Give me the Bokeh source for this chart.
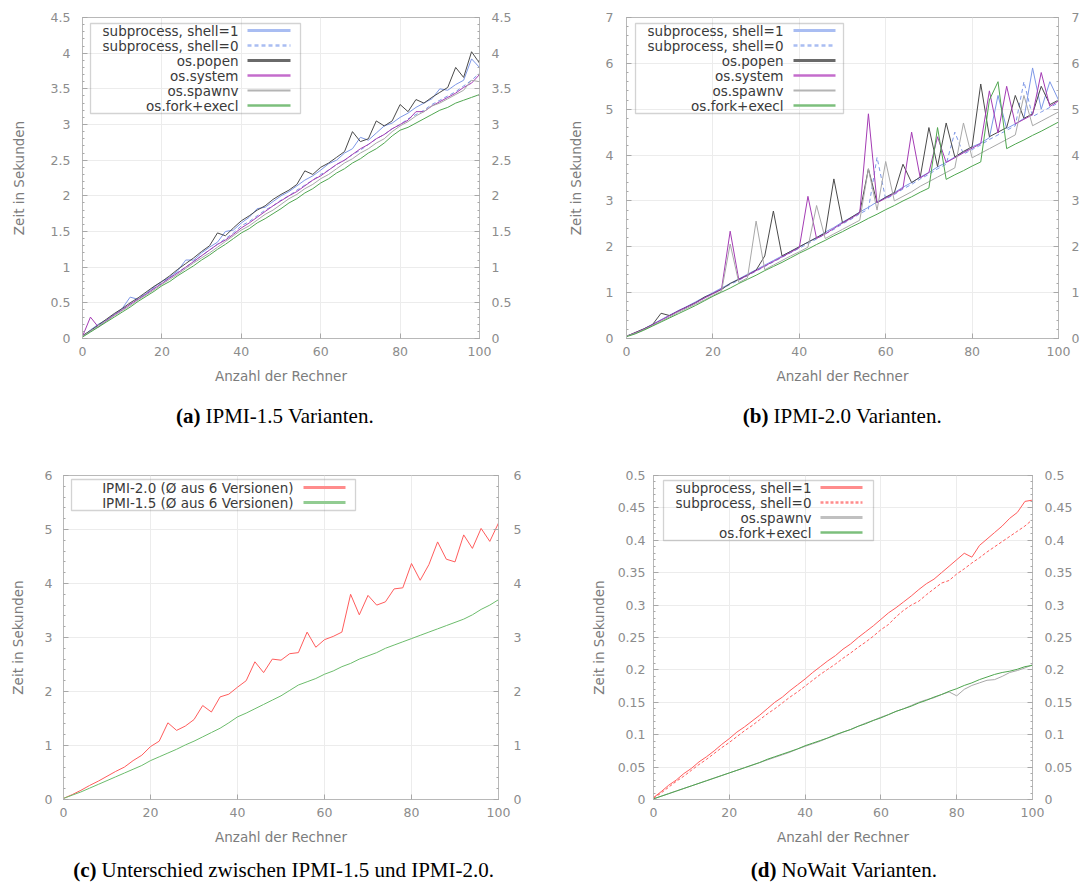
from bokeh.plotting import figure
from bokeh.layouts import column, row
from bokeh.models import (Range1d, LinearAxis, FixedTicker, NumeralTickFormatter,
                          Label, BoxAnnotation, Arrow)
from bokeh.embed import file_html
from bokeh.resources import INLINE

# ---------------- data ----------------
rechner = [0, 2, 4, 6, 8, 10, 12, 14, 16, 18,
           20, 22, 24, 26, 28, 30, 32, 34, 36, 38,
           40, 42, 44, 46, 48, 50, 52, 54, 56, 58,
           60, 62, 64, 66, 68, 70, 72, 74, 76, 78,
           80, 82, 84, 86, 88, 90, 92, 94, 96, 98,
           100]
x_ticks = [0, 20, 40, 60, 80, 100]

# (a) IPMI-1.5
a_shell1 = [0.03, 0.12, 0.20, 0.26, 0.34, 0.42, 0.58, 0.55, 0.63, 0.72,
            0.80, 0.86, 0.95, 1.10, 1.10, 1.20, 1.28, 1.35, 1.50, 1.52,
            1.62, 1.70, 1.82, 1.84, 1.92, 2.00, 2.06, 2.14, 2.22, 2.28,
            2.36, 2.45, 2.50, 2.60, 2.66, 2.82, 2.78, 2.88, 2.98, 3.02,
            3.10, 3.16, 3.24, 3.30, 3.36, 3.50, 3.48, 3.56, 3.62, 3.92,
            3.80]
a_shell0 = [0.03, 0.10, 0.18, 0.25, 0.33, 0.41, 0.48, 0.56, 0.63, 0.70,
            0.78, 0.85, 0.93, 1.00, 1.08, 1.16, 1.24, 1.32, 1.40, 1.48,
            1.58, 1.64, 1.72, 1.80, 1.86, 1.94, 2.00, 2.08, 2.15, 2.22,
            2.30, 2.36, 2.44, 2.50, 2.58, 2.64, 2.72, 2.80, 2.86, 2.94,
            3.00, 3.08, 3.14, 3.20, 3.28, 3.34, 3.40, 3.46, 3.54, 3.62,
            3.72]
a_popen = [0.04, 0.11, 0.19, 0.27, 0.35, 0.42, 0.50, 0.57, 0.65, 0.73,
           0.80, 0.88, 0.97, 1.05, 1.13, 1.22, 1.30, 1.48, 1.44, 1.55,
           1.65, 1.72, 1.80, 1.86, 1.95, 2.02, 2.08, 2.16, 2.35, 2.30,
           2.40, 2.46, 2.54, 2.62, 2.90, 2.76, 2.80, 3.05, 2.98, 3.05,
           3.28, 3.18, 3.35, 3.30, 3.38, 3.45, 3.52, 3.80, 3.66, 4.02,
           3.86]
a_system = [0.03, 0.30, 0.16, 0.25, 0.33, 0.40, 0.48, 0.55, 0.62, 0.70,
            0.77, 0.85, 0.92, 1.00, 1.08, 1.16, 1.24, 1.32, 1.38, 1.46,
            1.55, 1.62, 1.70, 1.78, 1.86, 1.93, 2.00, 2.06, 2.14, 2.22,
            2.28, 2.36, 2.44, 2.50, 2.58, 2.66, 2.72, 2.80, 2.86, 2.94,
            3.00, 3.06, 3.18, 3.18, 3.26, 3.32, 3.38, 3.44, 3.52, 3.58,
            3.70]
a_spawnv = [0.03, 0.10, 0.17, 0.24, 0.32, 0.39, 0.46, 0.54, 0.61, 0.68,
            0.76, 0.83, 0.90, 0.98, 1.06, 1.13, 1.20, 1.28, 1.36, 1.44,
            1.52, 1.58, 1.66, 1.74, 1.80, 1.88, 1.96, 2.02, 2.10, 2.16,
            2.24, 2.30, 2.38, 2.46, 2.52, 2.60, 2.66, 2.74, 2.80, 2.90,
            2.98, 3.04, 3.12, 3.18, 3.26, 3.30, 3.36, 3.42, 3.48, 3.62,
            3.60]
a_fork = [0.02, 0.09, 0.16, 0.23, 0.30, 0.37, 0.44, 0.52, 0.59, 0.66,
          0.74, 0.80, 0.88, 0.95, 1.02, 1.10, 1.17, 1.25, 1.32, 1.40,
          1.48, 1.54, 1.62, 1.68, 1.75, 1.82, 1.90, 1.96, 2.04, 2.10,
          2.18, 2.24, 2.32, 2.38, 2.46, 2.52, 2.60, 2.66, 2.74, 2.84,
          2.92, 2.96, 3.02, 3.08, 3.14, 3.20, 3.24, 3.30, 3.34, 3.38,
          3.42]
a_y_ticks = [0, 0.5, 1, 1.5, 2, 2.5, 3, 3.5, 4, 4.5]

# (b) IPMI-2.0
b_shell1 = [0.05, 0.12, 0.21, 0.31, 0.41, 0.51, 0.61, 0.70, 0.80, 0.90,
            1.00, 1.10, 1.20, 1.30, 1.40, 1.50, 1.60, 1.70, 1.80, 1.90,
            2.00, 2.10, 2.20, 2.32, 2.42, 2.54, 2.64, 2.76, 2.86, 2.98,
            3.08, 3.18, 3.30, 3.40, 3.52, 3.62, 3.74, 3.84, 3.96, 4.06,
            4.18, 4.26, 4.38, 5.30, 4.58, 4.68, 4.80, 5.90, 5.00, 5.60,
            5.20]
b_shell0 = [0.05, 0.12, 0.20, 0.30, 0.40, 0.50, 0.59, 0.68, 0.78, 0.88,
            0.98, 1.08, 1.18, 1.27, 1.37, 1.47, 1.57, 1.67, 1.77, 1.87,
            1.97, 2.07, 2.17, 2.28, 2.38, 2.50, 2.60, 2.72, 2.82, 3.95,
            3.04, 3.14, 3.26, 3.36, 3.48, 3.58, 3.70, 3.80, 4.50, 4.02,
            4.12, 4.22, 4.34, 4.44, 4.54, 4.64, 5.60, 4.84, 4.94, 5.04,
            5.14]
b_popen = [0.05, 0.13, 0.21, 0.30, 0.55, 0.50, 0.60, 0.69, 0.78, 0.90,
           0.98, 1.07, 1.20, 1.29, 1.38, 1.49, 1.80, 2.78, 1.80, 1.90,
           2.00, 2.10, 2.20, 2.30, 3.48, 2.52, 2.64, 2.75, 3.70, 2.96,
           3.08, 3.18, 3.80, 3.40, 3.52, 4.60, 3.75, 4.70, 3.96, 4.08,
           4.18, 5.55, 4.40, 4.50, 4.60, 5.30, 4.80, 4.90, 5.50, 5.10,
           5.20]
b_system = [0.05, 0.12, 0.20, 0.30, 0.40, 0.50, 0.60, 0.69, 0.78, 0.88,
            0.98, 1.08, 2.34, 1.28, 1.38, 1.48, 1.58, 1.68, 1.78, 1.88,
            1.98, 3.10, 2.18, 2.28, 2.40, 2.52, 2.62, 2.74, 4.90, 2.96,
            3.06, 3.16, 3.28, 4.50, 3.50, 3.62, 4.40, 3.84, 3.94, 4.05,
            4.15, 4.25, 5.40, 4.48, 5.50, 4.68, 4.78, 4.88, 5.80, 5.06,
            5.18]
b_spawnv = [0.05, 0.11, 0.19, 0.28, 0.38, 0.47, 0.57, 0.66, 0.75, 0.84,
            0.94, 1.03, 2.06, 1.22, 1.32, 2.56, 1.50, 1.60, 1.70, 1.80,
            1.89, 1.99, 2.90, 2.18, 2.28, 2.38, 2.48, 2.58, 3.70, 2.80,
            3.86, 3.00, 3.10, 3.20, 3.32, 3.42, 3.52, 3.62, 3.72, 4.70,
            3.94, 4.04, 4.14, 4.24, 4.34, 4.44, 5.30, 4.64, 4.74, 4.84,
            4.94]
b_fork = [0.04, 0.10, 0.18, 0.27, 0.36, 0.45, 0.54, 0.63, 0.72, 0.82,
          0.92, 1.01, 1.10, 1.20, 1.29, 1.38, 1.48, 1.57, 1.66, 1.76,
          1.86, 1.95, 2.05, 2.14, 2.24, 2.33, 2.43, 2.52, 2.62, 2.71,
          2.81, 2.90, 3.00, 3.09, 3.19, 3.28, 4.60, 3.47, 3.57, 3.66,
          3.76, 3.85, 5.20, 5.60, 4.14, 4.24, 4.33, 4.43, 4.52, 4.62,
          4.72]
b_y_ticks = [0, 1, 2, 3, 4, 5, 6, 7]

# (c) IPMI-1.5 vs IPMI-2.0 (average of 6 versions)
c_ipmi20 = [0.02, 0.09, 0.17, 0.26, 0.34, 0.43, 0.52, 0.60, 0.72, 0.82,
            0.98, 1.08, 1.42, 1.28, 1.36, 1.48, 1.74, 1.62, 1.90, 1.95,
            2.08, 2.20, 2.55, 2.35, 2.60, 2.58, 2.70, 2.72, 3.10, 2.82,
            2.96, 3.02, 3.10, 3.80, 3.42, 3.78, 3.60, 3.66, 3.90, 3.92,
            4.37, 4.06, 4.35, 4.77, 4.45, 4.40, 4.90, 4.65, 5.02, 4.78,
            5.12]
c_ipmi15 = [0.02, 0.08, 0.14, 0.21, 0.28, 0.35, 0.42, 0.49, 0.56, 0.63,
            0.72, 0.79, 0.86, 0.93, 1.01, 1.08, 1.16, 1.24, 1.32, 1.42,
            1.53, 1.60, 1.68, 1.76, 1.84, 1.92, 2.02, 2.12, 2.18, 2.24,
            2.32, 2.38, 2.46, 2.52, 2.60, 2.66, 2.72, 2.80, 2.86, 2.92,
            2.98, 3.04, 3.10, 3.16, 3.22, 3.28, 3.34, 3.42, 3.52, 3.60,
            3.70]
c_y_ticks = [0, 1, 2, 3, 4, 5, 6]

# (d) NoWait
d_shell1 = [0.003, 0.012, 0.022, 0.030, 0.040, 0.048, 0.058, 0.066, 0.075, 0.085,
            0.094, 0.104, 0.112, 0.121, 0.130, 0.140, 0.150, 0.158, 0.168, 0.177,
            0.186, 0.196, 0.205, 0.214, 0.222, 0.232, 0.240, 0.250, 0.259, 0.268,
            0.278, 0.288, 0.296, 0.305, 0.314, 0.324, 0.333, 0.340, 0.350, 0.360,
            0.370, 0.380, 0.374, 0.392, 0.402, 0.412, 0.422, 0.434, 0.443, 0.460,
            0.462]
d_shell0 = [0.002, 0.010, 0.019, 0.028, 0.036, 0.045, 0.054, 0.062, 0.071, 0.080,
            0.088, 0.097, 0.106, 0.114, 0.123, 0.132, 0.140, 0.149, 0.158, 0.166,
            0.175, 0.184, 0.193, 0.201, 0.209, 0.218, 0.226, 0.235, 0.243, 0.252,
            0.262, 0.270, 0.282, 0.292, 0.300, 0.306, 0.316, 0.325, 0.334, 0.338,
            0.348, 0.356, 0.365, 0.373, 0.382, 0.390, 0.398, 0.406, 0.414, 0.422,
            0.432]
d_spawnv = [0.001, 0.005, 0.009, 0.013, 0.017, 0.021, 0.025, 0.029, 0.033, 0.037,
            0.041, 0.045, 0.049, 0.053, 0.057, 0.061, 0.065, 0.069, 0.073, 0.078,
            0.082, 0.086, 0.090, 0.095, 0.099, 0.104, 0.108, 0.113, 0.118, 0.122,
            0.127, 0.131, 0.136, 0.140, 0.145, 0.150, 0.154, 0.157, 0.162, 0.166,
            0.160, 0.170, 0.176, 0.180, 0.184, 0.185, 0.190, 0.196, 0.199, 0.203,
            0.208]
d_fork = [0.001, 0.005, 0.009, 0.013, 0.017, 0.021, 0.025, 0.029, 0.033, 0.037,
          0.041, 0.045, 0.049, 0.053, 0.057, 0.062, 0.066, 0.070, 0.074, 0.078,
          0.083, 0.087, 0.091, 0.095, 0.100, 0.104, 0.108, 0.113, 0.117, 0.122,
          0.126, 0.131, 0.136, 0.140, 0.144, 0.149, 0.153, 0.158, 0.162, 0.167,
          0.171, 0.176, 0.180, 0.185, 0.189, 0.193, 0.196, 0.198, 0.201, 0.205,
          0.207]
d_y_ticks = [0, 0.05, 0.1, 0.15, 0.2, 0.25, 0.3, 0.35, 0.4, 0.45, 0.5]

for s in [a_shell1, a_shell0, a_popen, a_system, a_spawnv, a_fork,
          b_shell1, b_shell0, b_popen, b_system, b_spawnv, b_fork,
          c_ipmi20, c_ipmi15, d_shell1, d_shell0, d_spawnv, d_fork]:
    assert len(s) == len(rechner), len(s)

# ---------------- styling ----------------
SANS = "DejaVu Sans"
SERIF = "Liberation Serif"
TICK_COL = "#8c8c8c"
BORDER = "#b8b8b8"
CAP_SIZE = "21px"

BLUE = "#7d97e6"
BLUE_LEG = "#a9bdf2"
DARK = "#4a4a4a"
PURPLE = "#a43cb4"
PURPLE_LEG = "#c46ccc"
LGRAY = "#a8a8a8"
GREEN = "#4fa64f"
GREEN_LEG = "#7cbf7c"
RED = "#ff5c5c"
RED_LEG = "#ff8c8c"
CGREEN = "#6cbc6c"


def make_panel(W, H, ox, oy, fl, fr, ft, fb, ymax, yticks, minor_step,
               ylab_standoff, left_standoff, right_standoff):
    p = figure(width=W, height=H, x_range=Range1d(0, 100), y_range=Range1d(0, ymax),
               output_backend="svg", toolbar_location=None,
               min_border_left=fl, min_border_right=W - fr,
               min_border_top=ft, min_border_bottom=H - fb)
    p.outline_line_color = BORDER
    p.outline_line_width = 1
    p.background_fill_color = "white"
    p.border_fill_color = "white"
    nmin = int(round(ymax / minor_step))
    minors = [round(i * minor_step, 4) for i in range(nmin + 1)]
    yt = FixedTicker(ticks=yticks, minor_ticks=minors)
    xt = FixedTicker(ticks=x_ticks, minor_ticks=[])
    fmt = NumeralTickFormatter(format="0.[00]")

    def style(ax):
        ax.axis_line_color = BORDER
        ax.major_tick_in = 5
        ax.major_tick_out = 0
        ax.minor_tick_in = 2
        ax.minor_tick_out = 0
        ax.major_tick_line_color = "#a8a8a8"
        ax.minor_tick_line_color = "#a8a8a8"
        ax.major_label_text_font = SANS
        ax.major_label_text_font_size = "12.5px"
        ax.major_label_text_color = TICK_COL
        ax.axis_label_text_font = SANS
        ax.axis_label_text_font_size = "13.5px"
        ax.axis_label_text_font_style = "normal"
        ax.axis_label_text_color = "#7c7c7c"

    xa = p.xaxis[0]
    style(xa)
    xa.ticker = xt
    xa.formatter = fmt
    xa.minor_tick_line_color = None
    xa.major_label_standoff = 8
    xa.axis_label = "Anzahl der Rechner"
    xa.axis_label_standoff = 9

    ya = p.yaxis[0]
    style(ya)
    ya.ticker = yt
    ya.formatter = fmt
    ya.major_label_standoff = left_standoff
    ya.axis_label = "Zeit in Sekunden"
    ya.axis_label_standoff = ylab_standoff

    ra = LinearAxis(ticker=yt, formatter=fmt)
    style(ra)
    ra.major_label_standoff = right_standoff
    p.add_layout(ra, "right")

    p.xgrid.ticker = xt
    p.ygrid.ticker = yt
    p.grid.grid_line_color = "#ececec"
    p.grid.grid_line_width = 1

    def rel(x, y):
        return x - ox - fl, fb - (y - oy)

    return p, rel


def add_legend(p, rel, box, text_right, samp, rows):
    l, t = rel(box[0], box[1])
    r, b = rel(box[2], box[3])
    p.add_layout(BoxAnnotation(left=l, right=r, top=t, bottom=b,
                               left_units="screen", right_units="screen",
                               top_units="screen", bottom_units="screen",
                               fill_color=None, line_color="#6e6e6e", line_width=1.3))
    for (label, y, color, width, dash) in rows:
        tx, ty = rel(text_right, y)
        p.add_layout(Label(x=tx, y=ty, x_units="screen", y_units="screen", text=label,
                           text_font=SANS, text_font_size="13.5px", text_color="#3a3a3a",
                           text_align="right", text_baseline="middle"))
        sx0, sy = rel(samp[0], y)
        sx1, _ = rel(samp[1], y)
        p.add_layout(Arrow(start=None, end=None, x_start=sx0, y_start=sy, x_end=sx1, y_end=sy,
                           start_units="screen", end_units="screen",
                           line_color=color, line_width=width, line_dash=dash))


def caption(W, h, split_rel, y_from_top, bold, rest):
    # caption strip under a panel; its frame lines up with the panel's frame,
    # so split_rel is measured from the panel frame's left edge
    c = figure(width=W, height=h, x_range=Range1d(0, W), y_range=Range1d(0, h),
               output_backend="svg", toolbar_location=None, min_border=0,
               x_axis_type=None, y_axis_type=None)
    c.outline_line_color = None
    c.border_fill_color = "white"
    c.background_fill_color = "white"
    c.add_layout(Label(x=split_rel, y=h - y_from_top, x_units="screen", y_units="screen",
                       text=bold, text_font=SERIF, text_font_size=CAP_SIZE,
                       text_font_style="bold", text_color="black",
                       text_align="right", text_baseline="middle"))
    c.add_layout(Label(x=split_rel + 5, y=h - y_from_top, x_units="screen", y_units="screen",
                       text=rest, text_font=SERIF, text_font_size=CAP_SIZE,
                       text_color="black", text_align="left", text_baseline="middle"))
    return c


# ---------------- panel (a) ----------------
pa, rela = make_panel(560, 395, 0, 0, 82, 479, 17, 338, 4.5, a_y_ticks, 0.1, 21, 12, 12)
pa.line(rechner, a_shell1, line_color=BLUE, line_width=1)
pa.line(rechner, a_shell0, line_color=BLUE, line_width=1, line_dash="4 3")
pa.line(rechner, a_popen, line_color=DARK, line_width=1)
pa.line(rechner, a_system, line_color=PURPLE, line_width=1)
pa.line(rechner, a_spawnv, line_color=LGRAY, line_width=1)
pa.line(rechner, a_fork, line_color=GREEN, line_width=1)
rows6 = [("subprocess, shell=1", BLUE_LEG, 3, "solid"),
         ("subprocess, shell=0", BLUE_LEG, 2.5, "4 3"),
         ("os.popen", "#6a6a6a", 3, "solid"),
         ("os.system", PURPLE_LEG, 2.5, "solid"),
         ("os.spawnv", "#b4b4b4", 2, "solid"),
         ("os.fork+execl", GREEN_LEG, 2.5, "solid")]
add_legend(pa, rela, (90, 23, 300, 113), 238, (247, 290),
           [(lab, 30 + 15 * i, c, w, d) for i, (lab, c, w, d) in enumerate(rows6)])
cap_a = caption(560, 46, 200 - 82, 20, "(a)", "IPMI-1.5 Varianten.")

# ---------------- panel (b) ----------------
pb, relb = make_panel(524, 395, 560, 0, 66, 498, 17, 338, 7, b_y_ticks, 0.2, 19, 13, 13)
pb.line(rechner, b_shell1, line_color=BLUE, line_width=1)
pb.line(rechner, b_shell0, line_color=BLUE, line_width=1, line_dash="4 3")
pb.line(rechner, b_popen, line_color=DARK, line_width=1)
pb.line(rechner, b_system, line_color=PURPLE, line_width=1)
pb.line(rechner, b_spawnv, line_color=LGRAY, line_width=1)
pb.line(rechner, b_fork, line_color=GREEN, line_width=1)
add_legend(pb, relb, (635, 23, 843, 113), 783, (793, 835),
           [(lab, 30 + 15 * i, c, w, d) for i, (lab, c, w, d) in enumerate(rows6)])
cap_b = caption(524, 46, 768 - 626, 20, "(b)", "IPMI-2.0 Varianten.")

# ---------------- panel (c) ----------------
pc, relc = make_panel(560, 408, 0, 441, 63, 498, 34, 358, 6, c_y_ticks, 0.2, 16, 11, 15)
pc.line(rechner, c_ipmi20, line_color=RED, line_width=1)
pc.line(rechner, c_ipmi15, line_color=CGREEN, line_width=1)
add_legend(pc, relc, (71, 479, 355, 510), 293, (303, 345),
           [("IPMI-2.0 (\u00d8 aus 6 Versionen)", 487, RED_LEG, 3, "solid"),
            ("IPMI-1.5 (\u00d8 aus 6 Versionen)", 502, "#92cc92", 3, "solid")])
cap_c = caption(560, 33, 96 - 63, 20, "(c)", "Unterschied zwischen IPMI-1.5 und IPMI-2.0.")

# ---------------- panel (d) ----------------
pd_, reld = make_panel(524, 408, 560, 441, 93, 472, 34, 358, 0.5, d_y_ticks, 0.01, 8, 8, 12)
pd_.line(rechner, d_shell1, line_color=RED, line_width=1)
pd_.line(rechner, d_shell0, line_color=RED, line_width=1, line_dash="3 2")
pd_.line(rechner, d_spawnv, line_color=LGRAY, line_width=1)
pd_.line(rechner, d_fork, line_color=GREEN, line_width=1)
add_legend(pd_, reld, (663, 480, 873, 540), 811, (820, 862),
           [("subprocess, shell=1", 487, RED_LEG, 3, "solid"),
            ("subprocess, shell=0", 502, RED_LEG, 2.5, "3 2"),
            ("os.spawnv", 517, "#c0c0c0", 3, "solid"),
            ("os.fork+execl", 532, GREEN_LEG, 2.5, "solid")])
cap_d = caption(524, 33, 776 - 653, 20, "(d)", "NoWait Varianten.")

layout = column(row(column(pa, cap_a), column(pb, cap_b)),
                row(column(pc, cap_c), column(pd_, cap_d)))
open("out.html", "w").write(file_html(layout, INLINE))
